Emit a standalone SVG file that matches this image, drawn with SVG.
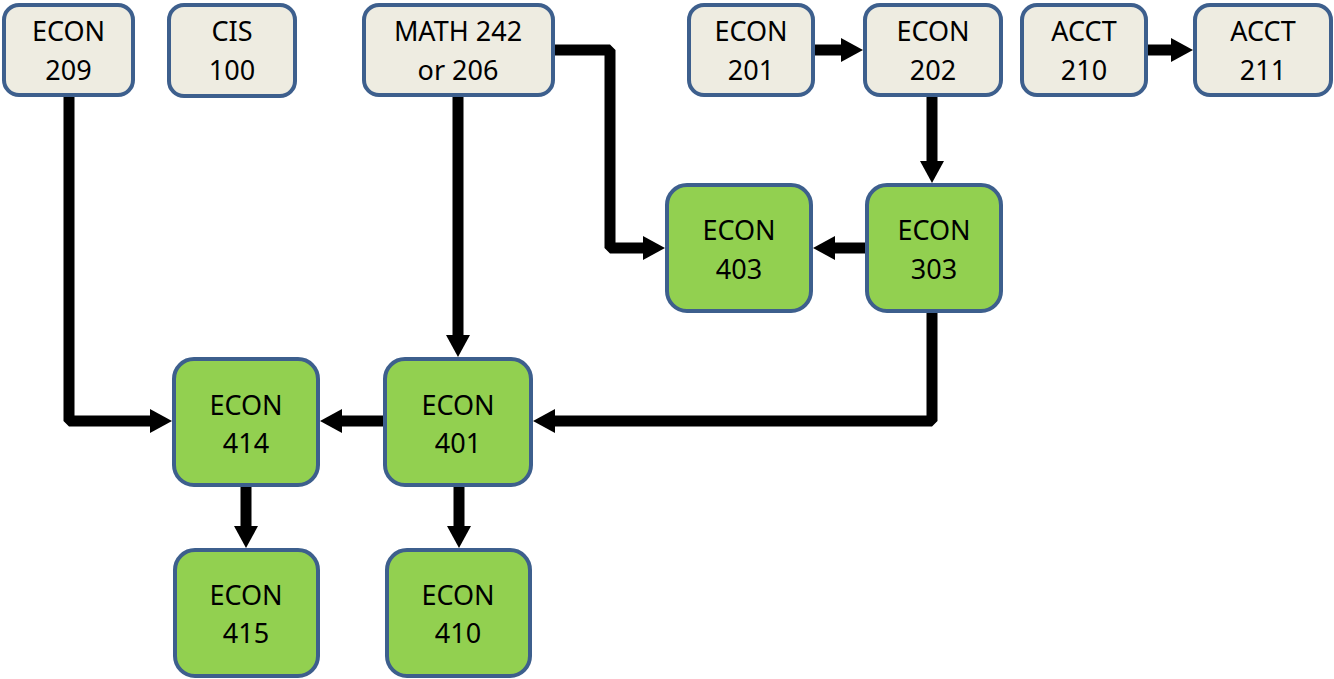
<svg xmlns="http://www.w3.org/2000/svg" width="1334" height="679" viewBox="0 0 1334 679">
<style>
.top rect{fill:#EEECE1;stroke:#3D5F8D;stroke-width:4}
.grn rect{fill:#92D050;stroke:#3D5F8D;stroke-width:4}
text{font-family:"Noto Sans","Liberation Sans",sans-serif;font-size:27px;fill:#000;text-anchor:middle}
#connectors path{fill:none;stroke:#000;stroke-width:11;stroke-linejoin:bevel;marker-end:url(#ah)}
</style>
<defs>
<marker id="ah" markerUnits="userSpaceOnUse" markerWidth="22" markerHeight="24" viewBox="0 0 22 24" refX="0" refY="12" orient="auto">
<path d="M0,0 L22,12 L0,24 z" fill="#000"/>
</marker>
</defs>
<rect width="1334" height="679" fill="#fff"/>
<g id="connectors">
<path d="M69,97 V421 H150"/>
<path d="M458,97 V335"/>
<path d="M555,50 H610 V248 H643"/>
<path d="M815,50 H841"/>
<path d="M1148,50 H1171"/>
<path d="M932,97 V161"/>
<path d="M865,248 H835"/>
<path d="M932,313 V421 H555"/>
<path d="M383,421 H342"/>
<path d="M246,487 V526"/>
<path d="M459,487 V526"/>
</g>
<g id="econ209" class="top"><rect x="4" y="5" width="129" height="90" rx="15"/><text x="68.5" y="41">ECON</text><text x="68.5" y="80">209</text></g>
<g id="cis100" class="top"><rect x="169" y="5" width="126" height="91" rx="15"/><text x="232" y="41">CIS</text><text x="232" y="80">100</text></g>
<g id="math242" class="top"><rect x="364" y="5" width="189" height="90" rx="15"/><text x="458" y="41">MATH 242</text><text x="458" y="80">or 206</text></g>
<g id="econ201" class="top"><rect x="689" y="5" width="124" height="90" rx="15"/><text x="751" y="41">ECON</text><text x="751" y="80">201</text></g>
<g id="econ202" class="top"><rect x="865" y="5" width="136" height="90" rx="15"/><text x="933" y="41">ECON</text><text x="933" y="80">202</text></g>
<g id="acct210" class="top"><rect x="1022" y="5" width="124" height="90" rx="15"/><text x="1084" y="41">ACCT</text><text x="1084" y="80">210</text></g>
<g id="acct211" class="top"><rect x="1195" y="5" width="136" height="90" rx="15"/><text x="1263" y="41">ACCT</text><text x="1263" y="80">211</text></g>
<g id="econ403" class="grn"><rect x="667" y="185" width="144" height="126" rx="20"/><text x="739" y="240">ECON</text><text x="739" y="279">403</text></g>
<g id="econ303" class="grn"><rect x="867" y="185" width="134" height="126" rx="20"/><text x="934" y="240">ECON</text><text x="934" y="279">303</text></g>
<g id="econ414" class="grn"><rect x="174" y="359" width="144" height="126" rx="20"/><text x="246" y="415">ECON</text><text x="246" y="453">414</text></g>
<g id="econ401" class="grn"><rect x="385" y="359" width="146" height="126" rx="20"/><text x="458" y="415">ECON</text><text x="458" y="453">401</text></g>
<g id="econ415" class="grn"><rect x="175" y="550" width="143" height="126" rx="20"/><text x="246" y="605">ECON</text><text x="246" y="643">415</text></g>
<g id="econ410" class="grn"><rect x="387" y="550" width="143" height="126" rx="20"/><text x="458" y="605">ECON</text><text x="458" y="643">410</text></g>
</svg>
